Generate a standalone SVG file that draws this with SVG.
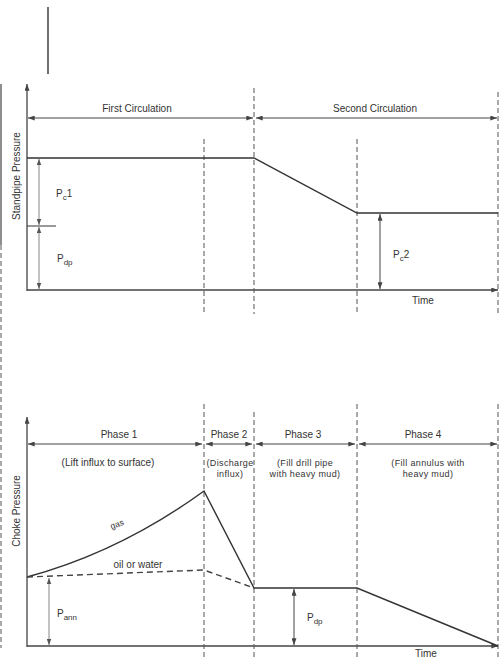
<svg xmlns="http://www.w3.org/2000/svg" width="504" height="658" viewBox="0 0 504 658">
<style>
text,tspan{font-family:"Liberation Sans",Arial,sans-serif;fill:#333;font-size:10px}
.m{text-anchor:middle}
text.s{font-size:9px;letter-spacing:0.35px}
.ax{stroke:#444;stroke-width:1.3;fill:none}
.dash{stroke:#555;stroke-width:1;stroke-dasharray:5,3;fill:none}
.dim{stroke:#444;stroke-width:1;fill:none}
.gdim{stroke:#999;stroke-width:1.2;fill:none}
.curve{stroke:#333;stroke-width:1.4;fill:none}
tspan.sub{font-size:8px}
</style>
<defs>
<marker id="ah" viewBox="0 0 8 6" refX="8" refY="3" markerWidth="7" markerHeight="5" orient="auto-start-reverse" markerUnits="userSpaceOnUse"><path d="M0,0L8,3L0,6z" fill="#444"/></marker>
<marker id="ahg" viewBox="0 0 8 6" refX="8" refY="3" markerWidth="6" markerHeight="5" orient="auto-start-reverse" markerUnits="userSpaceOnUse"><path d="M0,0L8,3L0,6z" fill="#555"/></marker>
</defs>
<g id="frame">
<line x1="48" y1="7" x2="48" y2="74" stroke="#222" stroke-width="1.3"/>
<line x1="1" y1="84" x2="1" y2="245" stroke="#444" stroke-width="1.2"/>
<line x1="1" y1="245" x2="1" y2="648" class="dash"/>
</g>
<g id="connectors">
<line x1="27" y1="291" x2="27" y2="84" class="ax" marker-end="url(#ah)"/>
<line x1="27" y1="290" x2="498" y2="290" class="ax" marker-end="url(#ah)"/>
<line x1="254" y1="88" x2="254" y2="314" class="dash"/>
<line x1="204" y1="139" x2="204" y2="312" class="dash"/>
<line x1="357" y1="139" x2="357" y2="314" class="dash"/>
<line x1="498" y1="92" x2="498" y2="314" class="dash"/>
<line x1="28" y1="118" x2="253" y2="118" class="dim" marker-start="url(#ah)" marker-end="url(#ah)"/>
<line x1="256" y1="118" x2="497" y2="118" class="dim" marker-start="url(#ah)" marker-end="url(#ah)"/>
<polyline points="27,158 254,158 357,213 498,213" class="curve"/>
<line x1="27" y1="226" x2="56" y2="226" stroke="#333" stroke-width="1"/>
<line x1="39" y1="159" x2="39" y2="225" class="gdim" marker-start="url(#ahg)" marker-end="url(#ahg)"/>
<line x1="39" y1="227" x2="39" y2="289" class="gdim" marker-start="url(#ahg)" marker-end="url(#ahg)"/>
<line x1="380" y1="214" x2="380" y2="289" class="dim" marker-start="url(#ah)" marker-end="url(#ah)"/>
<line x1="27" y1="647" x2="27" y2="417" class="ax" marker-end="url(#ah)"/>
<line x1="27" y1="646" x2="498" y2="646" class="ax" marker-end="url(#ah)"/>
<line x1="204" y1="404" x2="204" y2="658" class="dash"/>
<line x1="254" y1="412" x2="254" y2="658" class="dash"/>
<line x1="357" y1="404" x2="357" y2="658" class="dash"/>
<line x1="498" y1="404" x2="498" y2="658" class="dash"/>
<line x1="28" y1="444" x2="202" y2="444" class="dim" marker-start="url(#ah)" marker-end="url(#ah)"/>
<line x1="206" y1="444" x2="252" y2="444" class="dim" marker-start="url(#ah)" marker-end="url(#ah)"/>
<line x1="256" y1="444" x2="355" y2="444" class="dim" marker-start="url(#ah)" marker-end="url(#ah)"/>
<line x1="359" y1="444" x2="497" y2="444" class="dim" marker-start="url(#ah)" marker-end="url(#ah)"/>
<path d="M27,577 Q120,552 204,491 L254,588 L357,588 L498,646" class="curve"/>
<polyline points="27,577 204,570 254,588" fill="none" stroke="#444" stroke-width="1.4" stroke-dasharray="6,4"/>
<line x1="49" y1="578" x2="49" y2="645" class="gdim" marker-start="url(#ahg)" marker-end="url(#ahg)"/>
<line x1="294" y1="589" x2="294" y2="645" class="dim" marker-start="url(#ah)" marker-end="url(#ah)"/>
</g>
<g id="labels-top">
<text x="137" y="112" class="m">First Circulation</text>
<text x="375" y="112" class="m">Second Circulation</text>
<text transform="translate(20,176) rotate(-90)" class="m">Standpipe Pressure</text>
<text x="56" y="197">P<tspan class="sub" dy="3">c</tspan><tspan dy="-3">1</tspan></text>
<text x="57" y="262">P<tspan class="sub" dy="3">dp</tspan></text>
<text x="393" y="258">P<tspan class="sub" dy="3">c</tspan><tspan dy="-3">2</tspan></text>
<text x="423" y="304" class="m">Time</text>
</g>
<g id="labels-bottom">
<text transform="translate(20,511) rotate(-90)" class="m">Choke Pressure</text>
<text x="119" y="438" class="m">Phase 1</text>
<text x="229" y="438" class="m">Phase 2</text>
<text x="303" y="438" class="m">Phase 3</text>
<text x="423" y="438" class="m">Phase 4</text>
<text x="108" y="466" class="m">(Lift influx to surface)</text>
<text x="230" y="466" class="m s">(Discharge</text>
<text x="230" y="476.5" class="m s">influx)</text>
<text x="305" y="466" class="m s">(Fill drill pipe</text>
<text x="305" y="476.5" class="m s">with heavy mud)</text>
<text x="428" y="466" class="m s">(Fill annulus with</text>
<text x="428" y="476.5" class="m s">heavy mud)</text>
<text transform="translate(118,527) rotate(-20)" class="m" style="font-size:8.5px">gas</text>
<text x="138" y="568" class="m">oil or water</text>
<text x="57" y="617">P<tspan class="sub" dy="3">ann</tspan></text>
<text x="307" y="621">P<tspan class="sub" dy="3">dp</tspan></text>
<text x="426" y="657" class="m">Time</text>
</g>
</svg>
